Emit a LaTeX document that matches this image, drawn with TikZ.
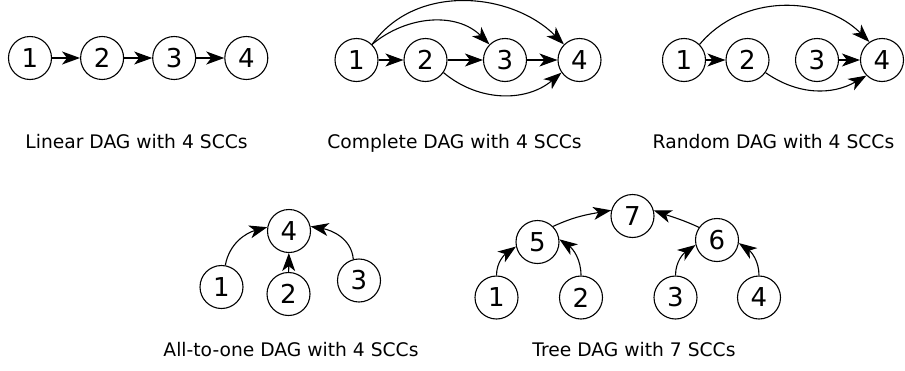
\documentclass[tikz,border=0pt]{standalone}
\usepackage{fontspec}
\setmainfont{DejaVu Sans}
\usetikzlibrary{arrows.meta,positioning}

\begin{document}
\begin{tikzpicture}[x=1pt, y=-1pt,
    node distance=28pt,
    v/.style={draw, circle, line width=1.1pt, minimum size=43pt, inner sep=0pt,
      font=\fontsize{26}{26}\selectfont},
    arr/.style={-{Stealth[length=18pt, width=13pt, inset=5pt]}, line width=1.1pt},
    lbl/.style={anchor=base, font=\fontsize{18.7}{22}\selectfont}]
  \useasboundingbox (0,0) rectangle (905,370);

  % linear chain
  \node[v] (l1) at (30,58) {1};
  \node[v, right=of l1] (l2) {2};
  \node[v, right=of l2] (l3) {3};
  \node[v, right=of l3] (l4) {4};
  \draw[arr] (l1) -- (l2);
  \draw[arr] (l2) -- (l3);
  \draw[arr] (l3) -- (l4);
  \node[lbl] (lcap) at (136.5,148) {Linear DAG with 4 SCCs};

  % complete
  \node[v] (c1) at (356.5,60) {1};
  \node[v] (c2) at (425.5,60) {2};
  \node[v] (c3) at (505,60) {3};
  \node[v] (c4) at (579.5,60) {4};
  \draw[arr] (c1) -- (c2);
  \draw[arr] (c2) -- (c3);
  \draw[arr] (c3) -- (c4);
  \draw[arr] (c1.45) to[out=40, in=135] (c3.135);
  \draw[arr] (c1.45) to[out=55, in=135] (c4.135);
  \draw[arr] (c2.-35) to[out=-40, in=-140] (c4.-145);
  \node[lbl] (ccap) at (454.5,148) {Complete DAG with 4 SCCs};

  % random
  \node[v] (r1) at (684,60) {1};
  \node[v] (r2) at (747.5,60) {2};
  \node[v] (r3) at (817,60) {3};
  \node[v] (r4) at (882,60) {4};
  \draw[arr] (r1) -- (r2);
  \draw[arr] (r3) -- (r4);
  \draw[arr] (r1.45) to[out=50, in=135] (r4.125);
  \draw[arr] (r2.-35) to[out=-35, in=-150] (r4.-135);
  \node[lbl] (rcap) at (773.5,148) {Random DAG with 4 SCCs};

  % all-to-one
  \node[v] (a4) at (289,231) {4};
  \node[v] (a1) at (221.5,287) {1};
  \node[v] (a2) at (288.5,294) {2};
  \node[v] (a3) at (359,280.5) {3};
  \draw[arr] (a1.80) to[out=80, in=195] (a4.170);
  \draw[arr] (a2) -- (a4);
  \draw[arr] (a3.105) to[out=95, in=-10] (a4.12);
  \node[lbl] (acap) at (291,356) {All-to-one DAG with 4 SCCs};

  % tree
  \node[v] (t7) at (632.5,216) {7};
  \node[v] (t5) at (537.5,242) {5};
  \node[v] (t6) at (717,240) {6};
  \node[v] (t1) at (496.5,297.5) {1};
  \node[v] (t2) at (581,297.5) {2};
  \node[v] (t3) at (675.5,297.5) {3};
  \node[v] (t4) at (759,297.5) {4};
  \draw[arr] (t1.north) to[out=90, in=215] (t5.192);
  \draw[arr] (t2.north) to[out=90, in=-35] (t5.7);
  \draw[arr] (t3.north) to[out=90, in=215] (t6.193);
  \draw[arr] (t4.north) to[out=90, in=-35] (t6.-8);
  \draw[arr] (t5.45) to[out=25, in=190] (t7.165);
  \draw[arr] (t6.145) to[out=155, in=-20] (t7.15);
  \node[lbl] (tcap) at (634,356) {Tree DAG with 7 SCCs};
\end{tikzpicture}
\end{document}
